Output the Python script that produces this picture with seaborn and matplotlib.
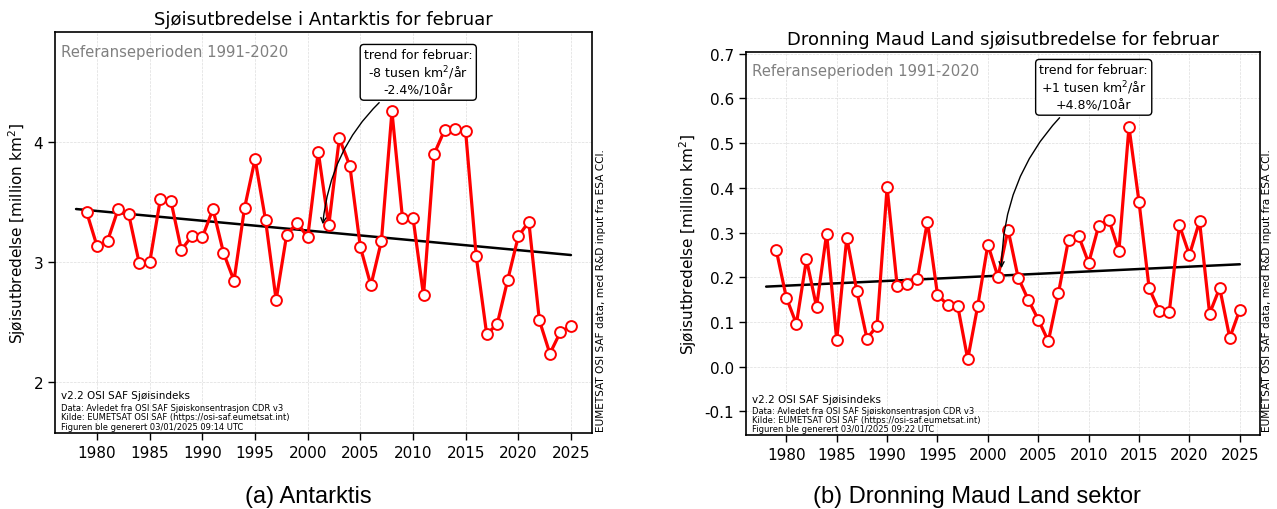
import numpy as np
import pandas as pd
import matplotlib
matplotlib.use("Agg")
import matplotlib.pyplot as plt
import seaborn as sns

# ---------------- data ----------------
years = list(range(1979, 2026))

antarktis = [3.415, 3.13, 3.177, 3.44, 3.396, 2.99, 3.0, 3.52, 3.51, 3.10,
             3.216, 3.207, 3.44, 3.077, 2.845, 3.448, 3.855, 3.346, 2.685, 3.224,
             3.326, 3.205, 3.916, 3.304, 4.026, 3.80, 3.124, 2.806, 3.174, 4.25,
             3.365, 3.368, 2.723, 3.896, 4.095, 4.107, 4.084, 3.05, 2.40, 2.485,
             2.853, 3.213, 3.335, 2.516, 2.239, 2.419, 2.469]

dml = [0.261, 0.1545, 0.0956, 0.240, 0.1336, 0.2977, 0.0598, 0.2887, 0.1687, 0.0628,
       0.0911, 0.4013, 0.1806, 0.1843, 0.1955, 0.3245, 0.1612, 0.138, 0.1366, 0.0166,
       0.1366, 0.273, 0.2007, 0.3066, 0.1993, 0.150, 0.1053, 0.0568, 0.1642, 0.2843,
       0.2925, 0.232, 0.3156, 0.329, 0.2589, 0.5363, 0.3678, 0.1754, 0.1247, 0.1232,
       0.3163, 0.25, 0.3253, 0.1187, 0.1761, 0.0643, 0.1277]

trend_years = [1978, 2025]
antarktis_trend = [3.44, 3.058]
dml_trend = [0.179, 0.229]

left_title = "Sjøisutbredelse i Antarktis for februar"
right_title = "Dronning Maud Land sjøisutbredelse for februar"
ylabel = "Sjøisutbredelse [million km$^2$]"
ref_text = "Referanseperioden 1991-2020"
side_text = "EUMETSAT OSI SAF data, med R&D input fra ESA CCI."
left_trend_text = "trend for februar:\n-8 tusen km$^2$/år\n-2.4%/10år"
right_trend_text = "trend for februar:\n+1 tusen km$^2$/år\n+4.8%/10år"
left_footer = ["v2.2 OSI SAF Sjøisindeks",
               "Data: Avledet fra OSI SAF Sjøiskonsentrasjon CDR v3",
               "Kilde: EUMETSAT OSI SAF (https://osi-saf.eumetsat.int)",
               "Figuren ble generert 03/01/2025 09:14 UTC"]
right_footer = ["v2.2 OSI SAF Sjøisindeks",
                "Data: Avledet fra OSI SAF Sjøiskonsentrasjon CDR v3",
                "Kilde: EUMETSAT OSI SAF (https://osi-saf.eumetsat.int)",
                "Figuren ble generert 03/01/2025 09:22 UTC"]
left_caption = "(a) Antarktis"
right_caption = "(b) Dronning Maud Land sektor"
xticks = [1980, 1985, 1990, 1995, 2000, 2005, 2010, 2015, 2020, 2025]
left_yticks = [2, 3, 4]
right_yticks = [-0.1, 0.0, 0.1, 0.2, 0.3, 0.4, 0.5, 0.6, 0.7]

# ---------------- style ----------------
sns.set_theme(style="ticks")
plt.rcParams['font.family'] = ['DejaVu Sans']
plt.rcParams['text.color'] = 'black'
plt.rcParams['axes.labelcolor'] = 'black'
plt.rcParams['xtick.color'] = 'black'
plt.rcParams['ytick.color'] = 'black'
plt.rcParams['axes.edgecolor'] = 'black'

W, H = 1277, 510
fig = plt.figure(figsize=(W / 100, H / 100), dpi=100)


def px_axes(l, t, r, b):
    return fig.add_axes([l / W, 1 - b / H, (r - l) / W, (b - t) / H])


def draw_panel(ax, vals, trend, title, ylim, yticks, ytickfmt, ann_text, ann_box, ann_tip, footer):
    df = pd.DataFrame({"year": years, "value": vals})
    tdf = pd.DataFrame({"year": trend_years, "value": trend})
    sns.lineplot(data=tdf, x="year", y="value", ax=ax, color="black", lw=1.8, zorder=3)
    sns.lineplot(data=df, x="year", y="value", ax=ax, color="#ff0000", lw=2.3,
                 marker="o", markersize=7.8, markerfacecolor="white",
                 markeredgecolor="#ff0000", markeredgewidth=1.4, zorder=4)
    ax.set_xlim(1976, 2027)
    ax.set_ylim(*ylim)
    ax.set_xticks(xticks)
    ax.set_yticks(yticks)
    ax.set_yticklabels([ytickfmt(v) for v in yticks])
    ax.tick_params(axis="both", labelsize=11, direction="out", length=5, width=1,
                   color="black", labelcolor="black")
    ax.grid(True, ls="--", lw=0.5, color="#dddddd")
    for s in ax.spines.values():
        s.set_color("black")
        s.set_linewidth(1.2)
    ax.set_xlabel("")
    ax.set_ylabel(ylabel, fontsize=11, color="black")
    ax.set_title(title, fontsize=13, color="black")
    ax.text(0.011, 0.952, ref_text, transform=ax.transAxes, color="gray",
            fontsize=10.7, va="center", ha="left")
    # footer
    ax.text(0.011, 0.094, footer[0], transform=ax.transAxes, fontsize=7.5, va="center")
    for i, line in enumerate(footer[1:]):
        ax.text(0.011, 0.064 - i * 0.024, line, transform=ax.transAxes, fontsize=6, va="center")
    ax.annotate(ann_text, xy=ann_tip, xytext=ann_box, ha="center", va="center",
                fontsize=9, zorder=6,
                bbox=dict(boxstyle="round,pad=0.3", fc="white", ec="black", lw=1),
                arrowprops=dict(arrowstyle="->", color="black", lw=1,
                                connectionstyle="arc3,rad=0.25"))


axL = px_axes(55, 33, 592, 434)
draw_panel(axL, antarktis, antarktis_trend, left_title, (1.58, 4.91), left_yticks,
           lambda v: f"{v:d}", left_trend_text, (2010.5, 4.575), (2001.4, 3.29), left_footer)

axR = px_axes(746, 53, 1260, 436)
draw_panel(axR, dml, dml_trend, right_title, (-0.153, 0.704), right_yticks,
           lambda v: f"{v:.1f}", right_trend_text, (2010.5, 0.625), (2001.35, 0.214), right_footer)

# side texts
fig.text(601 / W, 1 - 432 / H, side_text, rotation=90, fontsize=7.6, ha="center", va="bottom")
fig.text(1267 / W, 1 - 432 / H, side_text, rotation=90, fontsize=7.6, ha="center", va="bottom")

# captions
fig.text(308 / W, 1 - 497 / H, left_caption, fontsize=17, family="Liberation Sans",
         ha="center", va="center")
fig.text(977 / W, 1 - 497 / H, right_caption, fontsize=17, family="Liberation Sans",
         ha="center", va="center")

fig.savefig("out.png", dpi=100)
